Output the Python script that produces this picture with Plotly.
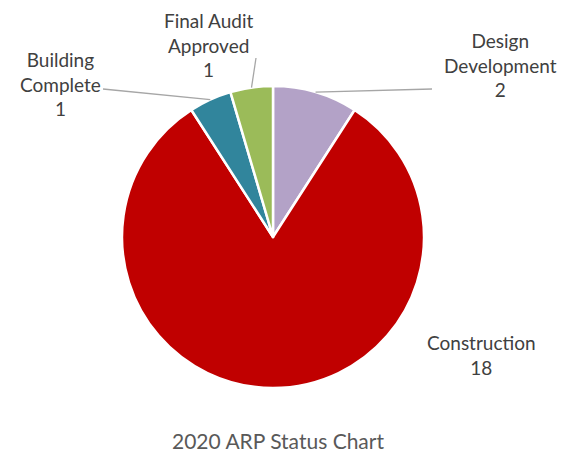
import math
import plotly.graph_objects as go

# Chart data
stages = ['Design Development', 'Construction', 'Building Complete', 'Final Audit Approved']
label_lines = ['Design<br>Development<br>2', 'Construction<br>18', 'Building<br>Complete<br>1',
               'Final Audit<br>Approved<br>1']
counts = [2, 18, 1, 1]
colors = ['#B3A2C7', '#C00000', '#31859C', '#9BBB59']
title_text = '2020 ARP Status Chart'

W, H = 574, 453
OFF = 8  # page body margin shifts the figure by this much
cx, cy, r = 273 - OFF, 237 - OFF, 151  # pie centre and radius in pixels

fig = go.Figure(go.Pie(
    labels=stages,
    values=counts,
    sort=False,
    direction='clockwise',
    rotation=0,
    marker=dict(colors=colors, line=dict(color='white', width=2.5)),
    textinfo='none',
    hoverinfo='label+value',
    domain=dict(x=[(cx - r) / W, (cx + r) / W], y=[1 - (cy + r) / H, 1 - (cy - r) / H]),
    showlegend=False,
))


def px(x, y):
    return (x - OFF) / W, 1 - (y - OFF) / H


# label text positions (reference pixels) and leader line ends (None = no line)
label_pos = [(500, 65), (481, 355), (60, 84), (208, 45)]
line_ends = [(432, 89), None, (103, 89), (256, 58)]

total = sum(counts)
cum = 0
shapes = []
annotations = []
for i, v in enumerate(counts):
    mid = (cum + v / 2) / total * 2 * math.pi
    cum += v
    sx, sy = cx + OFF + r * math.sin(mid), cy + OFF - r * math.cos(mid)
    if line_ends[i] is not None:
        ex, ey = line_ends[i]
        x0, y0 = px(sx, sy)
        x1, y1 = px(ex, ey)
        shapes.append(dict(type='line', xref='paper', yref='paper', x0=x0, y0=y0, x1=x1, y1=y1,
                           line=dict(color='#A6A6A6', width=1.3)))
    tx, ty = px(*label_pos[i])
    annotations.append(dict(text=label_lines[i], x=tx, y=ty, xref='paper', yref='paper',
                            showarrow=False, xanchor='center', yanchor='middle',
                            font=dict(size=19, color='#404040', family='Lato')))

annotations.append(dict(text=title_text, x=px(278, 440)[0], y=px(278, 440)[1], xref='paper', yref='paper',
                        showarrow=False, xanchor='center', yanchor='middle',
                        font=dict(size=21, color='#595959', family='Lato')))

fig.update_layout(
    width=W, height=H,
    margin=dict(l=0, r=0, t=0, b=0),
    paper_bgcolor='white',
    plot_bgcolor='white',
    shapes=shapes,
    annotations=annotations,
)

fig.write_html("out.html")
